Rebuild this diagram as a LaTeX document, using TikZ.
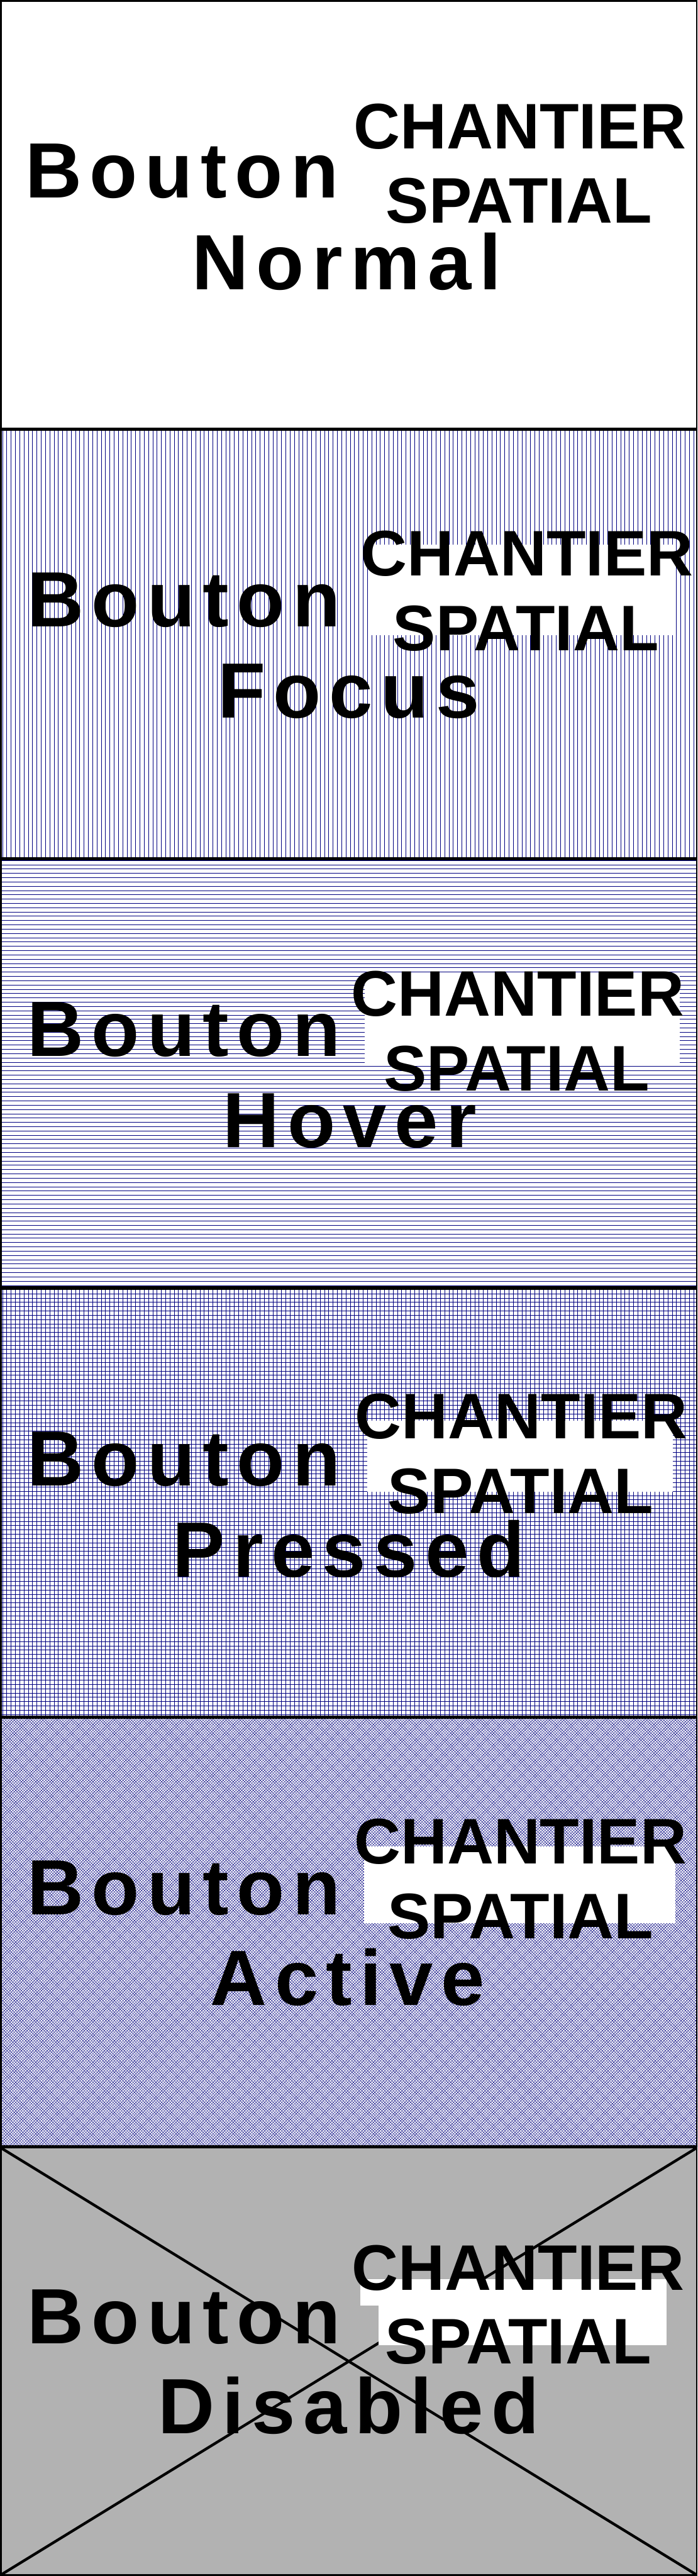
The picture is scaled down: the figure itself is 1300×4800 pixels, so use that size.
\documentclass[tikz,border=0pt]{standalone}
\usepackage{fontspec}
\setmainfont{Liberation Sans}
\newfontfamily\btnfont[LetterSpace=10]{Liberation Sans}
\newfontfamily\chfont{Liberation Sans}
\definecolor{hatchblue}{RGB}{0,0,128}
\definecolor{disgray}{RGB}{178,178,178}
\tikzset{
  btnword/.style={inner sep=0pt, outer sep=0pt, text=black, font={\btnfont\bfseries\fontsize{146}{146}\selectfont}},
  chword/.style={inner sep=0pt, outer sep=0pt, text=black, font={\chfont\bfseries\fontsize{120}{120}\selectfont}},
  panelborder/.style={draw=black, line width=3pt},
  hatch/.style={draw=hatchblue, line width=1pt},
  finehatch/.style={draw=hatchblue, line width=0.5pt},
  whitepatch/.style={fill=white, draw=none},
  crossline/.style={draw=black, line width=5pt}
}
\begin{document}
\begin{tikzpicture}[x=1pt,y=-1pt]
\useasboundingbox (0,0) rectangle (1300,4800);
\fill[white] (0,0) rectangle (1300,4800);

% ---------- Panel 1 : Normal ----------
\node[btnword, anchor=base west] (b1) at (47,368) {Bouton};
\node[btnword, anchor=base] (w1) at (646,540) {Normal};
\node[chword, anchor=base] (c1) at (969,277) {CHANTIER};
\node[chword, anchor=base] (s1) at (967,416) {SPATIAL};

% ---------- Panel 2 : Focus ----------
\begin{scope}
  \clip (0,800) rectangle (1300,1600);
  \draw[hatch] \foreach \i in {0,...,162} {(4.7+8*\i,800) -- (4.7+8*\i,1600)};
\end{scope}
\fill[whitepatch] (685,1015) rectangle (1259,1183);
\node[btnword, anchor=base west] (b2) at (51,1168) {Bouton};
\node[btnword, anchor=base] (w2) at (650,1338) {Focus};
\node[chword, anchor=base] (c2) at (982,1073) {CHANTIER};
\node[chword, anchor=base] (s2) at (980,1212) {SPATIAL};

% ---------- Panel 3 : Hover ----------
\begin{scope}
  \clip (0,1600) rectangle (1300,2400);
  \draw[hatch] \foreach \i in {0,...,99} {(0,1603.3+8*\i) -- (1300,1603.3+8*\i)};
\end{scope}
\fill[whitepatch] (680,1815) rectangle (1267,1983);
\node[btnword, anchor=base west] (b3) at (51,1968) {Bouton};
\node[btnword, anchor=base] (w3) at (652,2138) {Hover};
\node[chword, anchor=base] (c3) at (965,1893) {CHANTIER};
\node[chword, anchor=base] (s3) at (963,2033) {SPATIAL};

% ---------- Panel 4 : Pressed ----------
\begin{scope}
  \clip (0,2400) rectangle (1300,3200);
  \draw[hatch] \foreach \i in {0,...,162} {(4.7+8*\i,2400) -- (4.7+8*\i,3200)};
  \draw[hatch] \foreach \i in {0,...,99} {(0,2402.7+8*\i) -- (1300,2402.7+8*\i)};
\end{scope}
\fill[whitepatch] (684,2647) rectangle (1254,2780);
\node[btnword, anchor=base west] (b4) at (51,2768) {Bouton};
\node[btnword, anchor=base] (w4) at (650,2938) {Pressed};
\node[chword, anchor=base] (c4) at (972,2681) {CHANTIER};
\node[chword, anchor=base] (s4) at (970,2820) {SPATIAL};

% ---------- Panel 5 : Active ----------
\begin{scope}
  \clip (0,3200) rectangle (1300,4000);
  \draw[finehatch] \foreach \i in {0,...,394} {(-800+5.333*\i,3200) -- ++(800,800)};
  \draw[finehatch] \foreach \i in {0,...,394} {(5.333*\i,3200) -- ++(-800,800)};
\end{scope}
\fill[whitepatch] (678,3440) rectangle (1258,3584);
\node[btnword, anchor=base west] (b5) at (51,3568) {Bouton};
\node[btnword, anchor=base] (w5) at (648,3737) {Active};
\node[chword, anchor=base] (c5) at (970,3473) {CHANTIER};
\node[chword, anchor=base] (s5) at (970,3612) {SPATIAL};

% ---------- Panel 6 : Disabled ----------
\fill[disgray] (0,4000) rectangle (1300,4800);
\coordinate (xtl) at (3,4003);
\coordinate (xtr) at (1297,4003);
\coordinate (xbl) at (3,4797);
\coordinate (xbr) at (1297,4797);
\draw[crossline] (xtl) -- (xbr);
\draw[crossline] (xtr) -- (xbl);
\fill[whitepatch] (672,4247) rectangle (1242,4296);
\fill[whitepatch] (705,4296) rectangle (1242,4370);
\node[btnword, anchor=base west] (b6) at (51,4367) {Bouton};
\node[btnword, anchor=base] (w6) at (650,4535) {Disabled};
\node[chword, anchor=base] (c6) at (966,4267) {CHANTIER};
\node[chword, anchor=base] (s6) at (966,4405) {SPATIAL};

% ---------- Borders ----------
\foreach \t in {0,800,1600,2400,3200,4000} {
  \draw[panelborder] (1.5,\t+1.5) rectangle (1298.5,\t+798.5);
}
\end{tikzpicture}
\end{document}
